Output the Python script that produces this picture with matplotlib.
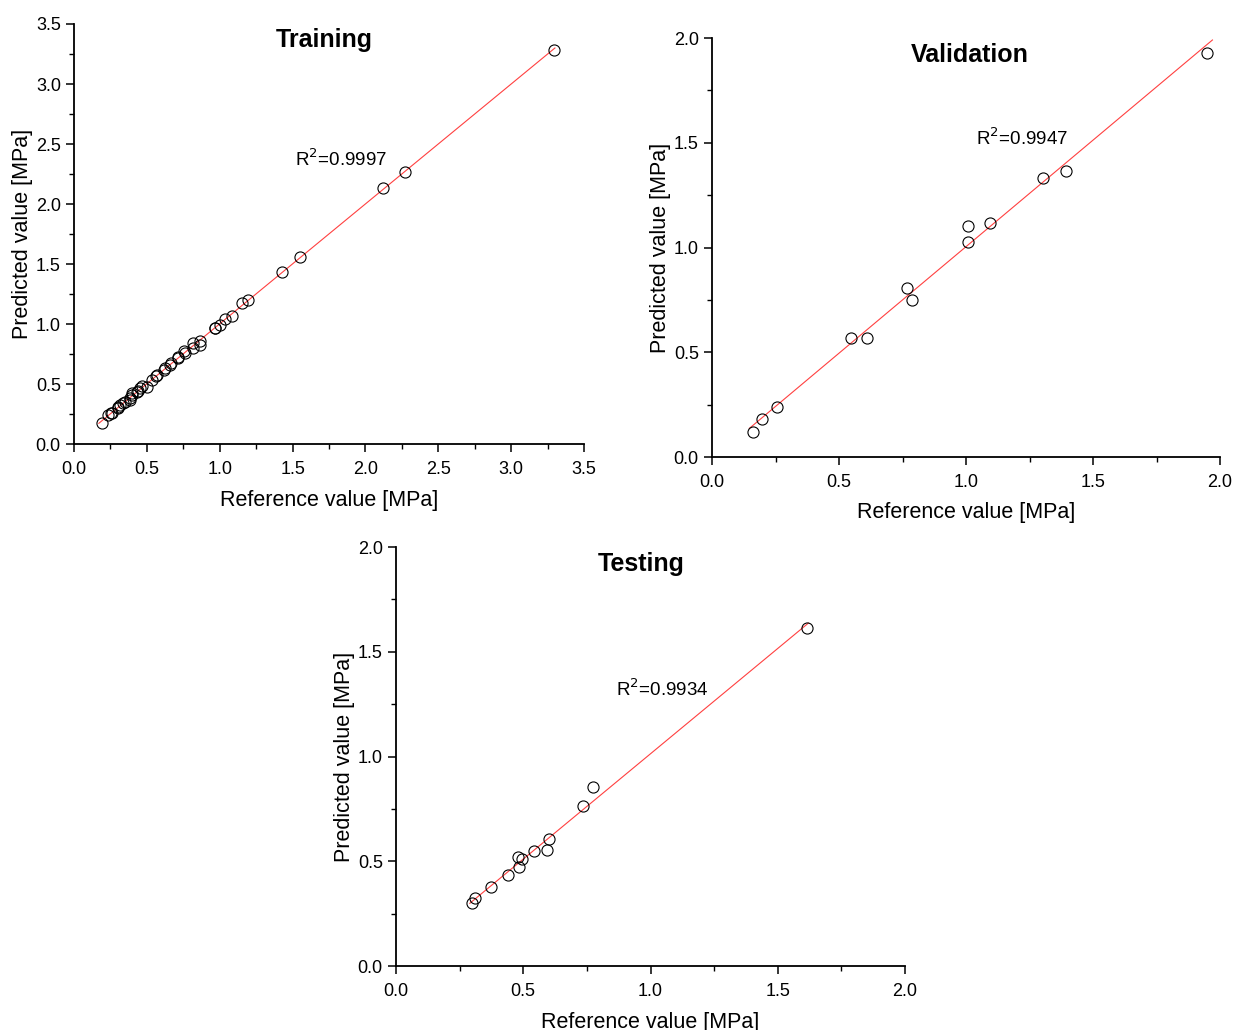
import numpy as np
import matplotlib
matplotlib.use("Agg")
import matplotlib.pyplot as plt
from matplotlib.ticker import MultipleLocator

plt.rcParams['font.family'] = ['Liberation Sans', 'DejaVu Sans']

# training set: reference vs predicted [MPa]
train_ref = [0.190, 0.236, 0.252, 0.258, 0.299, 0.304, 0.318, 0.339, 0.353, 0.384,
             0.386, 0.396, 0.400, 0.430, 0.440, 0.453, 0.467, 0.499, 0.533, 0.562,
             0.572, 0.617, 0.625, 0.659, 0.663, 0.712, 0.716, 0.753, 0.762, 0.815,
             0.819, 0.861, 0.865, 0.968, 0.970, 1.002, 1.038, 1.087, 1.151, 1.192,
             1.424, 1.554, 2.122, 2.269, 3.293]
train_pred = [0.172, 0.242, 0.256, 0.259, 0.300, 0.311, 0.328, 0.339, 0.348, 0.381,
              0.370, 0.408, 0.426, 0.436, 0.440, 0.464, 0.481, 0.478, 0.533, 0.570,
              0.575, 0.620, 0.631, 0.658, 0.676, 0.718, 0.728, 0.773, 0.761, 0.801,
              0.843, 0.829, 0.861, 0.964, 0.968, 0.992, 1.043, 1.069, 1.172, 1.200,
              1.433, 1.558, 2.131, 2.270, 3.286]

# validation set
val_ref = [0.163, 0.196, 0.256, 0.549, 0.612, 0.766, 0.786, 1.007, 1.007, 1.094,
           1.304, 1.394, 1.949]
val_pred = [0.118, 0.180, 0.237, 0.570, 0.570, 0.805, 0.749, 1.103, 1.026, 1.118,
            1.333, 1.367, 1.928]

# testing set
test_ref = [0.300, 0.310, 0.372, 0.439, 0.482, 0.478, 0.495, 0.542, 0.595, 0.601,
            0.736, 0.775, 1.616]
test_pred = [0.299, 0.326, 0.376, 0.433, 0.474, 0.519, 0.511, 0.550, 0.555, 0.605,
             0.765, 0.856, 1.615]

panels = [
    ("Training", train_ref, train_pred, "R$^2$=0.9997", 3.5, 0.5,
     [0.0600, 0.5689, 0.4133, 0.4078], (1.72, 3.37), (1.83, 2.37), (0.17, 3.30)),
    ("Validation", val_ref, val_pred, "R$^2$=0.9947", 2.0, 0.5,
     [0.5770, 0.5563, 0.4117, 0.4068], (1.016, 1.92), (1.22, 1.52), (0.147, 1.97)),
    ("Testing", test_ref, test_pred, "R$^2$=0.9934", 2.0, 0.5,
     [0.3209, 0.0621, 0.4125, 0.4068], (0.963, 1.92), (1.045, 1.32), (0.29, 1.62)),
]

fig = plt.figure(figsize=(12.34, 10.30), dpi=100)

for title, xr, yp, r2, lim, step, pos, tpos, rpos, span in panels:
    ax = fig.add_axes(pos)
    x = np.array(xr)
    y = np.array(yp)
    b, a = np.polyfit(x, y, 1)
    xl = np.linspace(span[0], span[1], 2)
    ax.plot(xl, a + b * xl, color='#ff4040', lw=0.8, zorder=1)
    ax.plot(x, y, 'o', ms=8, mfc='none', mec='black', mew=0.8, zorder=2)

    ax.set_xlim(0, lim)
    ax.set_ylim(0, lim)
    ax.xaxis.set_major_locator(MultipleLocator(step))
    ax.yaxis.set_major_locator(MultipleLocator(step))
    ax.xaxis.set_minor_locator(MultipleLocator(step / 2))
    ax.yaxis.set_minor_locator(MultipleLocator(step / 2))
    ax.xaxis.set_major_formatter(matplotlib.ticker.FormatStrFormatter('%.1f'))
    ax.yaxis.set_major_formatter(matplotlib.ticker.FormatStrFormatter('%.1f'))
    ax.tick_params(which='major', direction='out', length=6, width=1.1, labelsize=13)
    ax.tick_params(axis='x', which='major', pad=6)
    ax.tick_params(which='minor', direction='out', length=3.5, width=1.0)
    for s in ['top', 'right']:
        ax.spines[s].set_visible(False)
    for s in ['left', 'bottom']:
        ax.spines[s].set_linewidth(1.3)

    ax.set_xlabel("Reference value [MPa]", fontsize=15.5, labelpad=8.5)
    ax.set_ylabel("Predicted value [MPa]", fontsize=15.5, labelpad=2)
    ax.text(tpos[0], tpos[1], title, fontsize=18, fontweight='bold', ha='center', va='center')
    ax.text(rpos[0], rpos[1], r2, fontsize=13.5, ha='center', va='center')

fig.savefig("out.png", dpi=100)
